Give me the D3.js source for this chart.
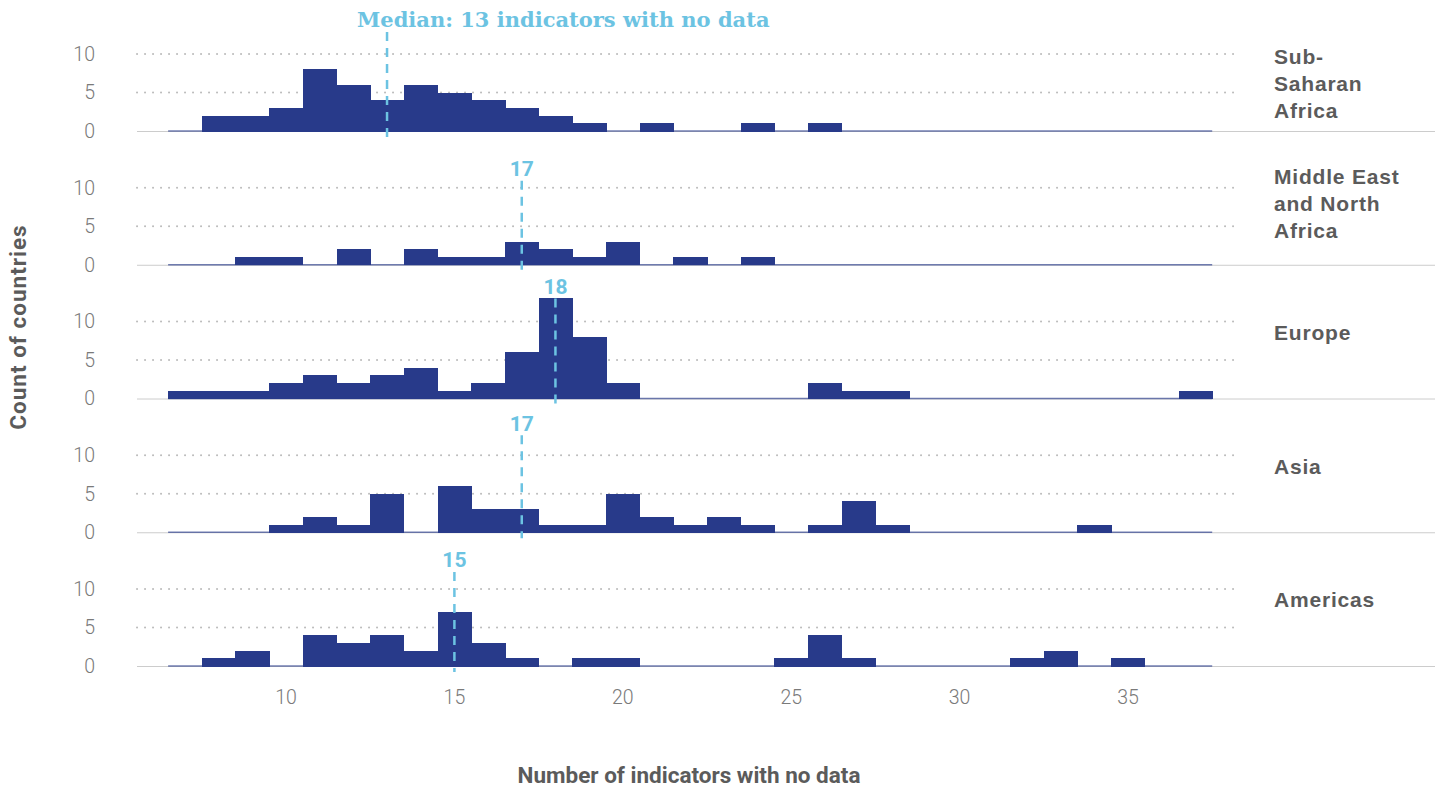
<!DOCTYPE html>
<html>
<head>
<meta charset="utf-8">
<script src="https://cdn.jsdelivr.net/npm/d3@7"></script>
<style>
  body { margin: 0; background: #fff; }
  svg text { font-family: Roboto, "Liberation Sans", sans-serif; }
</style>
</head>
<body>
<div id="chart"></div>
<script>
// bins are integer counts of missing indicators (each bin is 1 wide)
var bins = [7, 8, 9, 10, 11, 12, 13, 14, 15, 16, 17, 18, 19, 20, 21, 22,
            23, 24, 25, 26, 27, 28, 29, 30, 31, 32, 33, 34, 35, 36, 37];

var regions = ["Sub-Saharan Africa", "Middle East and North Africa", "Europe", "Asia", "Americas"];
var regionLines = [["Sub-", "Saharan", "Africa"], ["Middle East", "and North", "Africa"], ["Europe"], ["Asia"], ["Americas"]];

var ssa      = [0,2,2,3,8,6,4,6,5,4,3,2,1,0,1,0,0,1,0,1,0,0,0,0,0,0,0,0,0,0,0];
var mena     = [0,0,1,1,0,2,0,2,1,1,3,2,1,3,0,1,0,1,0,0,0,0,0,0,0,0,0,0,0,0,0];
var europe   = [1,1,1,2,3,2,3,4,1,2,6,13,8,2,0,0,0,0,0,2,1,1,0,0,0,0,0,0,0,0,1];
var asia     = [0,0,0,1,2,1,5,0,6,3,3,1,1,5,2,1,2,1,0,1,4,1,0,0,0,0,0,1,0,0,0];
var americas = [0,1,2,0,4,3,4,2,7,3,1,0,1,1,0,0,0,0,1,4,1,0,0,0,0,1,2,0,1,0,0];
var series = [ssa, mena, europe, asia, americas];

var medians = [13, 17, 18, 17, 15];
var medianLabels = ["Median: 13 indicators with no data", "17", "18", "17", "15"];

var xTicks = [10, 15, 20, 25, 30, 35];
var yTicks = [0, 5, 10];

// layout
var width = 1435, height = 788;
var panelLeft = 137, panelRight = 1241;
var navy = "#283a8a", blue = "#6cc3e2", grey = "#5b5b5b";
var labelUp = [111, 96, 112, 109, 106];   // median label centre above baseline
var stripUp = [47, 61, 66, 66, 66];       // facet label centre above baseline

var svg = d3.select("#chart").append("svg")
    .attr("width", width)
    .attr("height", height);

var x = d3.scaleLinear().domain([10, 35]).range([286, 1128]);
var facetY = d3.scaleLinear().domain([0, 4]).range([131, 666]);
var y = d3.scaleLinear().domain([0, 10]).range([0, -77]);

regions.forEach(function(name, i) {
  var g = svg.append("g")
      .attr("class", "facet")
      .attr("transform", "translate(0," + facetY(i) + ")");

  // dotted grid
  g.selectAll(".grid")
    .data(yTicks.filter(function(t) { return t > 0; }))
    .enter().append("line")
      .attr("x1", panelLeft).attr("x2", panelRight)
      .attr("y1", function(d) { return y(d); })
      .attr("y2", function(d) { return y(d); })
      .attr("stroke", "#bdbdbd")
      .attr("stroke-width", 2)
      .attr("stroke-linecap", "round")
      .attr("stroke-dasharray", "0.1,7.9");

  // y labels
  g.selectAll(".ylab")
    .data(yTicks)
    .enter().append("text")
      .attr("x", 95)
      .attr("y", function(d) { return y(d); })
      .attr("dy", "0.35em")
      .attr("text-anchor", "end")
      .style("font-size", "19.5px")
      .style("font-weight", 300)
      .attr("fill", "#7a7a7a")
      .text(function(d) { return d; });

  // base line (runs through the strip too)
  g.append("line")
      .attr("x1", panelLeft).attr("x2", width)
      .attr("y1", 0.5).attr("y2", 0.5)
      .attr("stroke", "#cccccc")
      .attr("stroke-width", 1);

  // zero-height bins show as a thin line
  g.append("line")
      .attr("x1", x(bins[0] - 0.5)).attr("x2", x(bins[bins.length - 1] + 0.5))
      .attr("y1", 0).attr("y2", 0)
      .attr("stroke", navy)
      .attr("stroke-opacity", 0.65)
      .attr("stroke-width", 1.5);

  // histogram bars
  g.selectAll(".bar")
    .data(series[i].map(function(v, j) { return {bin: bins[j], n: v}; })
                   .filter(function(d) { return d.n > 0; }))
    .enter().append("rect")
      .attr("class", "bar")
      .attr("x", function(d) { return x(d.bin - 0.5); })
      .attr("width", function(d) { return x(d.bin + 0.5) - x(d.bin - 0.5) + 0.6; })
      .attr("y", function(d) { return y(d.n); })
      .attr("height", function(d) { return -y(d.n) + 0.5; })
      .attr("fill", navy)
      .attr("shape-rendering", "crispEdges");

  // median line + label
  var ly = -labelUp[i];
  g.append("line")
      .attr("x1", x(medians[i])).attr("x2", x(medians[i]))
      .attr("y1", ly + 12).attr("y2", 6)
      .attr("stroke", blue)
      .attr("stroke-width", 2.5)
      .attr("stroke-dasharray", "9,7");

  if (i === 0) {
    g.append("text")
        .attr("x", x(medians[i]) - 30)
        .attr("y", ly)
        .attr("dy", "0.35em")
        .style("font-family", "'DejaVu Serif', serif")
        .style("font-size", "21px")
        .style("font-weight", 700)
        .attr("fill", blue)
        .text(medianLabels[i]);
  } else {
    g.append("text")
        .attr("x", x(medians[i]))
        .attr("y", ly)
        .attr("dy", "0.35em")
        .attr("text-anchor", "middle")
        .style("font-size", "21px")
        .style("font-weight", 700)
        .attr("fill", blue)
        .text(medianLabels[i]);
  }

  // facet strip label
  var lines = regionLines[i];
  var t = g.append("text")
      .attr("x", 1274)
      .attr("y", -stripUp[i] - (lines.length - 1) * 13.5)
      .style("font-family", "'Liberation Sans', Arial, sans-serif")
      .style("font-size", "21px")
      .style("font-weight", 700)
      .style("letter-spacing", "0.8px")
      .attr("fill", grey);
  t.selectAll("tspan")
    .data(lines)
    .enter().append("tspan")
      .attr("x", 1274)
      .attr("dy", function(d, k) { return k === 0 ? "0.35em" : 27; })
      .text(function(d) { return d; });
});

// x axis labels
svg.append("g")
  .selectAll("text")
  .data(xTicks)
  .enter().append("text")
    .attr("x", function(d) { return x(d); })
    .attr("y", 697)
    .attr("dy", "0.35em")
    .attr("text-anchor", "middle")
    .style("font-size", "19.5px")
    .style("font-weight", 300)
    .attr("fill", "#7a7a7a")
    .text(function(d) { return d; });

// axis titles
svg.append("text")
    .attr("x", 689)
    .attr("y", 775)
    .attr("dy", "0.35em")
    .attr("text-anchor", "middle")
    .style("font-size", "22.5px")
    .style("font-weight", 700)
    .attr("fill", grey)
    .text("Number of indicators with no data");

svg.append("text")
    .attr("transform", "translate(18,327) rotate(-90)")
    .attr("dy", "0.35em")
    .attr("text-anchor", "middle")
    .style("font-size", "22.5px")
    .style("font-weight", 700)
    .style("letter-spacing", "1px")
    .attr("fill", grey)
    .text("Count of countries");
</script>
</body>
</html>
